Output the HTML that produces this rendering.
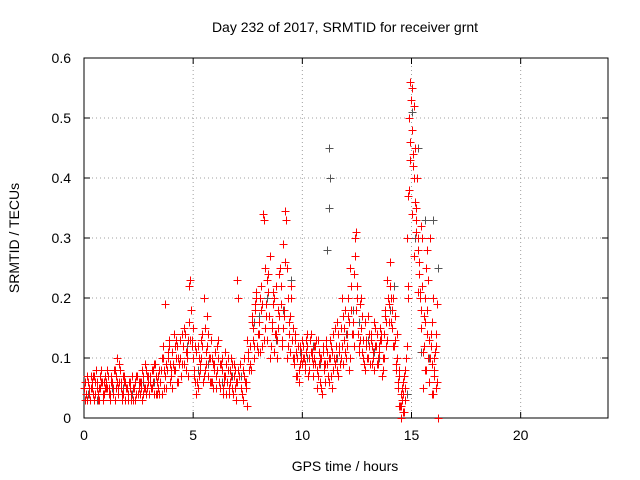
<!DOCTYPE html>
<html><head><meta charset="utf-8"><style>
body{margin:0;background:#fff}
svg{display:block;font-family:"Liberation Sans",sans-serif}
</style></head><body>
<svg id="chart" width="640" height="480" viewBox="0 0 640 480">
<rect width="640" height="480" fill="#fff"/>
<g id="grid"></g>
<g id="axes"></g>
<g id="gray"></g>
<g id="red"></g>
<text x="345" y="32" font-size="14" text-anchor="middle">Day 232 of 2017, SRMTID for receiver grnt</text>
<text x="345" y="471" font-size="14" text-anchor="middle">GPS time / hours</text>
<text transform="translate(19,238) rotate(-90)" font-size="14" text-anchor="middle">SRMTID / TECUs</text>
</svg>
<script>
const xTicks=[0,5,10,15,20];
const yTicks=[0,0.1,0.2,0.3,0.4,0.5,0.6];
const yTickLabels=["0","0.1","0.2","0.3","0.4","0.5","0.6"];
const redT=[0,0.1,0.2,0.3,0.4,0.5,0.6,0.7,0.8,0.9,1.0,1.1,1.2,1.3,1.4,1.5,1.6,1.7,1.8,1.9,2.0,2.1,2.2,2.3,2.4,2.5,2.6,2.7,2.8,2.9,3.0,3.1,3.2,3.3,3.4,
0.05,0.15,0.25,0.35,0.45,0.55,0.65,0.75,0.85,0.95,1.05,1.15,1.25,1.35,1.45,1.55,1.65,1.75,1.85,1.95,2.05,2.15,2.25,2.35,2.45,2.55,2.65,2.75,2.85,2.95,3.05,3.15,3.25,3.35,3.45,
3.5,3.6,3.7,3.8,3.9,4.0,4.1,4.2,4.3,4.4,4.5,4.6,4.7,4.8,4.85,4.9,4.95,
3.55,3.65,3.75,3.85,3.95,4.05,4.15,4.25,4.35,4.45,4.55,4.65,4.75,
5.0,5.1,5.2,5.3,5.4,5.5,5.6,5.7,5.8,5.9,6.0,6.1,6.2,6.3,6.4,6.5,6.6,6.7,6.8,6.9,7.0,7.05,7.1,7.2,7.3,7.4,7.5,
5.05,5.15,5.25,5.35,5.45,5.55,5.65,5.75,5.85,5.95,6.05,6.15,6.25,6.35,6.45,6.55,6.65,6.75,6.85,6.95,7.15,7.25,7.35,7.45,
7.6,7.7,7.8,7.9,8.0,8.1,8.2,8.25,8.3,8.4,8.5,8.6,8.7,8.8,8.9,9.0,9.1,9.2,9.25,9.3,9.4,9.5,9.6,9.7,9.8,9.9,
7.65,7.75,7.85,7.95,8.05,8.15,8.35,8.45,8.55,8.65,8.75,8.85,8.95,9.05,9.15,9.35,9.45,9.55,9.65,9.75,9.85,9.95,
10.0,10.1,10.2,10.3,10.4,10.5,10.6,10.7,10.8,10.9,11.0,11.1,11.2,11.3,11.4,11.5,11.6,11.7,11.8,11.9,
10.05,10.15,10.25,10.35,10.45,10.55,10.65,10.75,10.85,10.95,11.05,11.15,11.25,11.35,11.45,11.55,11.65,11.75,11.85,11.95,
12.0,12.1,12.2,12.3,12.4,12.45,12.5,12.6,12.7,12.8,12.9,13.0,13.1,13.2,13.3,13.4,13.5,13.6,13.7,13.8,13.9,
12.05,12.15,12.25,12.35,12.55,12.65,12.75,12.85,12.95,13.05,13.15,13.25,13.35,13.45,13.55,13.65,13.75,13.85,13.95,
14.0,14.05,14.1,14.2,14.3,14.4,14.45,14.5,14.55,14.6,14.65,14.7,14.75,14.8,14.85,14.9,14.95,15.0,15.05,15.1,15.15,15.2,15.25,15.3,15.35,15.4,15.45,15.5,15.55,15.6,15.65,15.7,15.75,15.8,15.85,15.9,15.95,16.0,16.05,16.1,16.15,16.2,
14.15,14.25,14.35,14.42,14.52,14.62,14.72,14.82,14.92,15.02,15.12,15.22,15.32,15.42,15.52,15.62,15.72,15.82,15.92,16.02,16.12];
const redV=[0.05,0.04,0.06,0.05,0.07,0.04,0.06,0.05,0.08,0.06,0.05,0.07,0.04,0.06,0.08,0.1,0.06,0.05,0.04,0.06,0.03,0.05,0.07,0.05,0.04,0.06,0.05,0.07,0.09,0.05,0.06,0.08,0.04,0.07,0.05,
0.03,0.07,0.04,0.06,0.03,0.08,0.04,0.07,0.03,0.05,0.08,0.05,0.06,0.04,0.07,0.05,0.08,0.03,0.07,0.05,0.06,0.04,0.03,0.06,0.07,0.04,0.08,0.05,0.04,0.07,0.05,0.06,0.09,0.04,0.08,
0.06,0.1,0.19,0.08,0.12,0.07,0.14,0.1,0.06,0.13,0.09,0.15,0.11,0.22,0.23,0.18,0.13,
0.04,0.08,0.05,0.11,0.09,0.05,0.08,0.12,0.09,0.07,0.12,0.08,0.13,
0.1,0.06,0.12,0.08,0.14,0.2,0.09,0.07,0.13,0.05,0.11,0.08,0.06,0.1,0.07,0.04,0.08,0.06,0.09,0.05,0.23,0.2,0.07,0.05,0.08,0.06,0.1,
0.08,0.04,0.07,0.1,0.06,0.15,0.12,0.1,0.06,0.09,0.05,0.13,0.09,0.05,0.11,0.06,0.04,0.1,0.07,0.03,0.09,0.04,0.1,0.02,
0.12,0.16,0.1,0.21,0.14,0.18,0.34,0.33,0.25,0.13,0.27,0.16,0.11,0.22,0.15,0.19,0.29,0.345,0.33,0.25,0.14,0.2,0.1,0.07,0.12,0.09,
0.08,0.13,0.18,0.11,0.2,0.12,0.17,0.21,0.12,0.19,0.14,0.1,0.24,0.12,0.17,0.2,0.11,0.15,0.13,0.1,0.06,0.11,
0.13,0.08,0.12,0.1,0.14,0.07,0.09,0.13,0.06,0.04,0.08,0.12,0.1,0.07,0.14,0.09,0.16,0.11,0.2,0.13,
0.1,0.11,0.07,0.13,0.1,0.12,0.05,0.09,0.1,0.11,0.06,0.09,0.13,0.05,0.1,0.12,0.07,0.15,0.09,0.18,
0.1,0.2,0.25,0.16,0.3,0.31,0.22,0.12,0.15,0.1,0.13,0.17,0.09,0.12,0.08,0.14,0.11,0.13,0.1,0.18,0.23,
0.14,0.08,0.18,0.12,0.14,0.19,0.11,0.08,0.1,0.12,0.14,0.1,0.12,0.09,0.15,0.07,0.14,0.12,0.16,
0.26,0.2,0.15,0.12,0.09,0.05,0.02,0,0.03,0.06,0.01,0.08,0.1,0.3,0.37,0.5,0.56,0.55,0.44,0.52,0.45,0.35,0.4,0.3,0.26,0.2,0.15,0.22,0.12,0.08,0.25,0.18,0.1,0.06,0.3,0.14,0.09,0.2,0.07,0.12,0.19,0.0,
0.2,0.17,0.14,0.08,0.02,0.04,0.05,0.22,0.43,0.34,0.27,0.31,0.21,0.32,0.05,0.16,0.28,0.13,0.04,0.1,0.05];
// additional uniformly sampled series (sample times every 0.1 h)
const redV3=[0.06,0.03,0.05,0.07,0.04,0.06,0.03,0.05,0.06,0.04,
0.06,0.04,0.07,0.05,0.03,0.06,0.09,0.04,0.06,0.05,
0.04,0.06,0.05,0.03,0.07,0.05,0.06,0.04,0.08,0.06,
0.07,0.05,0.09,0.06,0.04,0.08,0.12,0.07,0.1,0.06,
0.11,0.08,0.13,0.1,0.07,0.12,0.14,0.1,0.16,0.12,
0.07,0.11,0.05,0.09,0.12,0.08,0.17,0.1,0.06,0.09,
0.07,0.1,0.05,0.08,0.06,0.09,0.05,0.07,0.04,0.08,
0.06,0.09,0.04,0.07,0.05,0.11,0.09,0.15,0.19,0.12,
0.16,0.22,0.13,0.19,0.24,0.1,0.15,0.2,0.13,0.17,
0.22,0.15,0.26,0.12,0.17,0.13,0.09,0.11,0.08,0.1,
0.12,0.09,0.14,0.08,0.11,0.1,0.13,0.07,0.1,0.12,
0.09,0.11,0.06,0.12,0.08,0.1,0.14,0.09,0.12,0.15,
0.12,0.16,0.22,0.14,0.27,0.2,0.13,0.17,0.09,0.12,
0.1,0.13,0.11,0.15,0.09,0.12,0.14,0.1,0.16,0.2,
0.22,0.18,0.13,0.1,0.07,0.04,0.01,0.03,0.2,0.46,
0.48,0.4,0.33,0.24,0.18,0.11,0.2,0.14,0.1,0.16,
0.08,0.14];
const redV4=[0.04,0.06,0.03,0.05,0.07,0.05,0.03,0.06,0.04,0.07,
0.05,0.03,0.06,0.08,0.05,0.04,0.06,0.07,0.03,0.05,
0.06,0.03,0.05,0.07,0.04,0.06,0.03,0.05,0.07,0.04,
0.05,0.08,0.04,0.07,0.06,0.1,0.05,0.09,0.13,0.08,
0.09,0.12,0.06,0.1,0.14,0.09,0.11,0.07,0.13,0.15,
0.12,0.06,0.1,0.13,0.07,0.11,0.14,0.06,0.1,0.08,
0.12,0.06,0.09,0.04,0.07,0.1,0.08,0.05,0.09,0.06,
0.08,0.05,0.03,0.06,0.13,0.08,0.17,0.12,0.2,0.14,
0.11,0.19,0.15,0.23,0.17,0.12,0.21,0.14,0.18,0.25,
0.13,0.18,0.1,0.16,0.22,0.1,0.14,0.07,0.12,0.09,
0.1,0.13,0.07,0.11,0.09,0.12,0.08,0.11,0.05,0.09,
0.13,0.07,0.1,0.11,0.15,0.08,0.12,0.1,0.17,0.11,
0.17,0.1,0.14,0.24,0.18,0.11,0.2,0.13,0.16,0.1,
0.14,0.09,0.16,0.12,0.1,0.13,0.08,0.17,0.13,0.19,
0.16,0.12,0.08,0.06,0.02,0.05,0.07,0.12,0.38,0.53,
0.42,0.36,0.28,0.21,0.3,0.17,0.08,0.23,0.12,0.04,
0.11,0.06];
const redT3=redV3.map((_,i)=>0.025+0.1*i);
const redT4=redV4.map((_,i)=>0.075+0.1*i);
const grayT=[0.2,1.3,2.2,3.2,4.3,5.2,6.3,7.2,8.0,8.8,9.5,10.2,10.8,11.2,11.25,11.2,11.15,12.0,12.3,13.0,13.5,14.2,15.0,15.3,15.6,16.0,16.2,15.8,14.8,0.6,1.8,2.7,3.8,4.7,5.7,6.8,7.8,8.4,9.1,9.9,10.5,11.6,12.6,13.3,14.0,15.15,15.45];
const grayV=[0.04,0.05,0.04,0.06,0.1,0.08,0.06,0.07,0.17,0.13,0.23,0.1,0.09,0.45,0.4,0.35,0.28,0.14,0.18,0.13,0.1,0.22,0.51,0.45,0.33,0.33,0.25,0.1,0.04,0.03,0.05,0.06,0.08,0.12,0.09,0.07,0.16,0.2,0.18,0.11,0.12,0.1,0.16,0.11,0.18,0.3,0.11];

const L=84,R=608,T=58,B=418;
const xs=t=>L+(t/24)*(R-L);
const ys=v=>B-(v/0.6)*(B-T);
const NS="http://www.w3.org/2000/svg";
function mk(tag,attrs,parent){const e=document.createElementNS(NS,tag);for(const k in attrs)e.setAttribute(k,attrs[k]);parent.appendChild(e);return e;}
const grid=document.getElementById('grid'),axes=document.getElementById('axes');
xTicks.forEach(t=>{
  const x=xs(t);
  if(t>0){const g=mk('line',{x1:x,y1:T,x2:x,y2:B,stroke:'#a0a0a0','stroke-dasharray':'1,3'},grid);
  
  }
  mk('line',{x1:x,y1:B,x2:x,y2:B-6,stroke:'#000'},axes);
  mk('line',{x1:x,y1:T,x2:x,y2:T+6,stroke:'#000'},axes);
  const lb=mk('text',{x:x,y:B+22,'font-size':14,'text-anchor':'middle'},axes);
  lb.textContent=t;
  
  
});
yTicks.forEach((v,i)=>{
  const y=ys(v);
  if(v>0&&v<0.6){const g=mk('line',{x1:L,y1:y,x2:R,y2:y,stroke:'#a0a0a0','stroke-dasharray':'1,3'},grid);
  
  }
  mk('line',{x1:L,y1:y,x2:L+6,y2:y,stroke:'#000'},axes);
  mk('line',{x1:R,y1:y,x2:R-6,y2:y,stroke:'#000'},axes);
  const lb=mk('text',{x:L-13,y:y+5,'font-size':14,'text-anchor':'end'},axes);
  lb.textContent=yTickLabels[i];
  
  
});
const fr=mk('rect',{x:L,y:T,width:R-L,height:B-T,fill:'none',stroke:'#000'},axes);


function plus(T_,V_,col,g,name){
  let d='';
  for(let i=0;i<T_.length;i++){const x=Math.round(xs(T_[i]))+0.5,y=Math.round(ys(V_[i]))+0.5;d+=`M${x-4} ${y}H${x+4}M${x} ${y-4}V${y+4}`;}
  const p=mk('path',{d:d,stroke:col,'stroke-width':1,fill:'none'},g);
  
  
}
plus(grayT,grayV,'#555',document.getElementById('gray'),'gray-points');
plus(redT,redV,'#ff0000',document.getElementById('red'),'red-points');
plus(redT3,redV3,'#ff0000',document.getElementById('red'),'red-points-b');
plus(redT4,redV4,'#ff0000',document.getElementById('red'),'red-points-c');
</script>
</body></html>
